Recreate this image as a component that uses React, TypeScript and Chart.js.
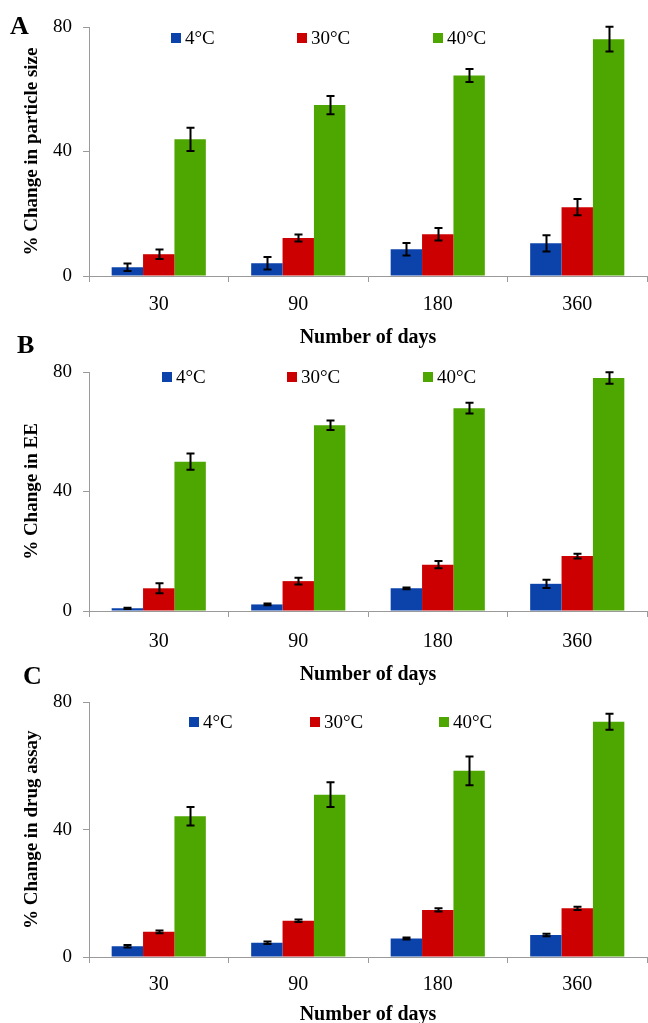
import React, { useEffect, useRef } from "react";
import { Chart, registerables } from "chart.js";

Chart.register(...registerables);

// ---------- DATA ----------
const CATEGORIES = ["30", "90", "180", "360"];
const SERIES_LABELS = ["4°C", "30°C", "40°C"];
const SERIES_COLORS = ["#0b43ab", "#cc0000", "#4ea600"];
const Y_TICKS = [0, 40, 80];
const X_TITLE = "Number of days";

// Panel A: % change in particle size
const A_4C = [2.8, 4.1, 8.6, 10.5];
const A_30C = [7.0, 12.2, 13.4, 22.1];
const A_40C = [43.9, 54.9, 64.4, 76.1];
const A_4C_ERR = [1.2, 2.0, 2.0, 2.6];
const A_30C_ERR = [1.5, 1.1, 2.0, 2.6];
const A_40C_ERR = [3.7, 2.9, 2.1, 4.0];

// Panel B: % change in EE
const B_4C = [0.9, 2.2, 7.6, 9.1];
const B_30C = [7.6, 10.0, 15.5, 18.4];
const B_40C = [50.0, 62.2, 67.9, 78.0];
const B_4C_ERR = [0.2, 0.3, 0.3, 1.4];
const B_30C_ERR = [1.7, 1.1, 1.2, 0.8];
const B_40C_ERR = [2.7, 1.6, 1.8, 1.9];

// Panel C: % change in drug assay
const C_4C = [3.4, 4.5, 5.8, 6.9];
const C_30C = [7.9, 11.4, 14.8, 15.3];
const C_40C = [44.2, 51.0, 58.5, 73.9];
const C_4C_ERR = [0.4, 0.4, 0.3, 0.4];
const C_30C_ERR = [0.4, 0.4, 0.5, 0.5];
const C_40C_ERR = [2.9, 3.9, 4.5, 2.5];

const FONT = "'Liberation Serif', 'Times New Roman', serif";

type PanelCfg = {
  letter: string;
  letterLeft: number;
  letterTop: number;
  yTitle: string;
  values: number[][];
  errors: number[][];
  top: number;
  height: number;
  chartTop: number;
  chartBottom: number;
  tickPad: number;
  titlePadBottom: number;
  legendXs: number[];
  legendY: number;
};

const PANELS: PanelCfg[] = [
  {
    letter: "A",
    letterLeft: 10,
    letterTop: 13,
    yTitle: "% Change in particle size",
    values: [A_4C, A_30C, A_40C],
    errors: [A_4C_ERR, A_30C_ERR, A_40C_ERR],
    top: 0,
    height: 350,
    chartTop: 27,
    chartBottom: 276,
    tickPad: 11,
    titlePadBottom: 4,
    legendXs: [171, 297, 433],
    legendY: 33,
  },
  {
    letter: "B",
    letterLeft: 17,
    letterTop: 332,
    yTitle: "% Change in EE",
    values: [B_4C, B_30C, B_40C],
    errors: [B_4C_ERR, B_30C_ERR, B_40C_ERR],
    top: 340,
    height: 345,
    chartTop: 372,
    chartBottom: 611,
    tickPad: 13,
    titlePadBottom: 2,
    legendXs: [162, 287, 423],
    legendY: 32,
  },
  {
    letter: "C",
    letterLeft: 23,
    letterTop: 663,
    yTitle: "% Change in drug assay",
    values: [C_4C, C_30C, C_40C],
    errors: [C_4C_ERR, C_30C_ERR, C_40C_ERR],
    top: 680,
    height: 343,
    chartTop: 702,
    chartBottom: 957,
    tickPad: 10,
    titlePadBottom: 0,
    legendXs: [189, 310, 439],
    legendY: 37,
  },
];

const errorBarPlugin = {
  id: "errorBarsCustom",
  afterDatasetsDraw(chart: any) {
    const ctx = chart.ctx;
    const ys = chart.scales.y;
    ctx.save();
    ctx.strokeStyle = "#000";
    ctx.lineWidth = 2;
    chart.data.datasets.forEach((ds: any, i: number) => {
      const meta = chart.getDatasetMeta(i);
      meta.data.forEach((bar: any, j: number) => {
        const v = ds.data[j];
        const e = ds.errors ? ds.errors[j] : 0;
        const x = Math.round(bar.x) + 0.5;
        const y1 = ys.getPixelForValue(v + e);
        const y2 = ys.getPixelForValue(Math.max(v - e, 0));
        ctx.beginPath();
        ctx.moveTo(x, y1);
        ctx.lineTo(x, y2);
        ctx.moveTo(x - 4, y1);
        ctx.lineTo(x + 4, y1);
        ctx.moveTo(x - 4, y2);
        ctx.lineTo(x + 4, y2);
        ctx.stroke();
      });
    });
    ctx.restore();
  },
};

function makeLegendPlugin(xs: number[], y: number) {
  return {
    id: "inlineLegend",
    afterDraw(chart: any) {
      const ctx = chart.ctx;
      ctx.save();
      ctx.font = `19px ${FONT}`;
      ctx.textBaseline = "middle";
      ctx.textAlign = "left";
      chart.data.datasets.forEach((ds: any, i: number) => {
        ctx.fillStyle = ds.backgroundColor;
        ctx.fillRect(xs[i], y, 10, 10);
        ctx.fillStyle = "#000";
        ctx.fillText(ds.label, xs[i] + 14, y + 6);
      });
      ctx.restore();
    },
  };
}

function Panel({ cfg }: { cfg: PanelCfg }) {
  const ref = useRef<HTMLCanvasElement | null>(null);
  useEffect(() => {
    if (!ref.current) return;
    const xAxisHeight = cfg.height - (cfg.chartBottom - cfg.top);
    const chart = new Chart(ref.current, {
      type: "bar",
      data: {
        labels: CATEGORIES,
        datasets: SERIES_LABELS.map((lab, i) => ({
          label: lab,
          data: cfg.values[i],
          errors: cfg.errors[i],
          backgroundColor: SERIES_COLORS[i],
          borderWidth: 0,
          barPercentage: 1.0,
          categoryPercentage: 0.675,
        })) as any,
      },
      options: {
        animation: false,
        responsive: false,
        maintainAspectRatio: false,
        events: [],
        layout: {
          padding: { top: cfg.chartTop - cfg.top, left: 0, right: 1, bottom: 0 },
        },
        plugins: {
          legend: { display: false },
          tooltip: { enabled: false },
        },
        scales: {
          x: {
            afterFit: (s: any) => {
              s.height = xAxisHeight;
            },
            grid: {
              display: true,
              drawOnChartArea: false,
              drawTicks: true,
              tickLength: 6,
              color: "#9a9a9a",
              offset: true,
            },
            border: { display: true, color: "#9a9a9a", width: 1 },
            ticks: {
              color: "#000",
              padding: cfg.tickPad,
              font: { family: FONT, size: 20, lineHeight: 1.2 },
            },
            title: {
              display: true,
              text: X_TITLE,
              color: "#000",
              font: { family: FONT, size: 20, weight: "bold", lineHeight: 0.8 },
              padding: { top: 0, bottom: cfg.titlePadBottom },
            },
          },
          y: {
            min: 0,
            max: 80,
            afterFit: (s: any) => {
              s.width = 89;
            },
            afterBuildTicks: (s: any) => {
              s.ticks = Y_TICKS.map((v) => ({ value: v }));
            },
            grid: {
              display: true,
              drawOnChartArea: false,
              drawTicks: true,
              tickLength: 6,
              color: "#9a9a9a",
            },
            border: { display: true, color: "#9a9a9a", width: 1 },
            ticks: {
              color: "#000",
              padding: 11,
              font: { family: FONT, size: 19 },
            },
            title: {
              display: true,
              text: cfg.yTitle,
              color: "#000",
              font: { family: FONT, size: 19, weight: "bold", lineHeight: 1 },
              padding: { top: 23, bottom: 0 },
            },
          },
        },
      } as any,
      plugins: [errorBarPlugin, makeLegendPlugin(cfg.legendXs, cfg.legendY)],
    });
    return () => chart.destroy();
  }, [cfg]);

  return (
    <canvas
      ref={ref}
      width={648}
      height={cfg.height}
      style={{ position: "absolute", left: 0, top: cfg.top, width: 648, height: cfg.height }}
    />
  );
}

export default function App() {
  return (
    <div
      style={{
        position: "absolute",
        left: 0,
        top: 0,
        width: 648,
        height: 1023,
        overflow: "hidden",
        background: "#fff",
      }}
    >
      {PANELS.map((p) => (
        <Panel key={p.letter} cfg={p} />
      ))}
      {PANELS.map((p) => (
        <div
          key={"l" + p.letter}
          style={{
            position: "absolute",
            left: p.letterLeft,
            top: p.letterTop,
            fontFamily: FONT,
            fontWeight: "bold",
            fontSize: 26,
            lineHeight: "26px",
            color: "#000",
          }}
        >
          {p.letter}
        </div>
      ))}
    </div>
  );
}
